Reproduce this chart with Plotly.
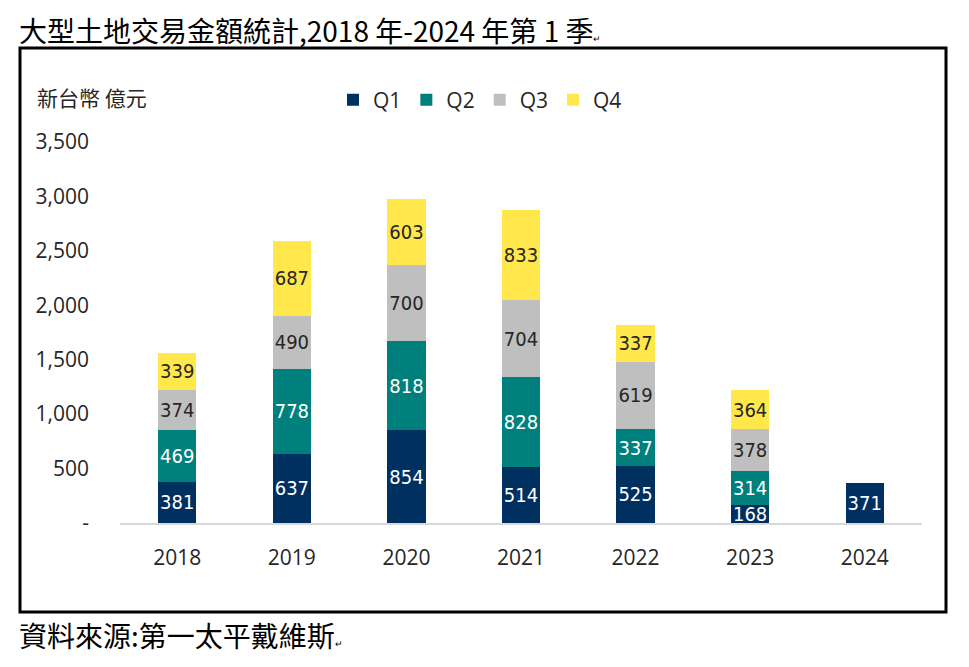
import plotly.graph_objects as go

# === DATA ===
years = ["2018", "2019", "2020", "2021", "2022", "2023", "2024"]
q1 = [381, 637, 854, 514, 525, 168, 371]
q2 = [469, 778, 818, 828, 337, 314, None]
q3 = [374, 490, 700, 704, 619, 378, None]
q4 = [339, 687, 603, 833, 337, 364, None]
y_ticks = [0, 500, 1000, 1500, 2000, 2500, 3000, 3500]
y_tick_text = ["-", "500", "1,000", "1,500", "2,000", "2,500", "3,000", "3,500"]

# === STYLE ===
# page has an 8px body margin, so everything below is in figure pixels (page - 8)
OFF = 8
W, H = 969 - 2 * OFF, 667 - 2 * OFF
L, R, T, B = 120 - OFF, 922 - OFF, 142 - OFF, 523 - OFF  # plot area
tick_font = "Open Sans, Noto Sans, sans-serif"
label_font = "Liberation Sans Narrow, DejaVu Sans Condensed, sans-serif"
cjk = "Noto Sans CJK TC, sans-serif"

series = [
    ("Q1", q1, "#00305F", "white"),
    ("Q2", q2, "#00807C", "white"),
    ("Q3", q3, "#BFBFBF", "#262626"),
    ("Q4", q4, "#FFE74C", "#262626"),
]

fig = go.Figure()
for name, vals, color, txtcol in series:
    fig.add_trace(go.Bar(
        x=years, y=vals, name=name,
        marker=dict(color=color, line=dict(width=0)),
        text=[str(v) if v is not None else "" for v in vals],
        textposition="inside", insidetextanchor="middle",
        textangle=0, constraintext="none",
        textfont=dict(family=label_font, size=20, color=txtcol),
        hoverinfo="x+y+name",
    ))

# page pixel -> paper coordinate
def px_x(p):
    return (p - OFF - L) / (R - L)

def px_y(p):
    return (B - (p - OFF)) / (B - T)

fig.update_layout(
    width=W, height=H,
    margin=dict(l=L, r=W - R, t=T, b=H - B, pad=0),
    barmode="stack", bargap=0.665,
    paper_bgcolor="white", plot_bgcolor="white",
    showlegend=True,
    legend=dict(orientation="h", traceorder="normal",
                x=px_x(333), y=px_y(100), xanchor="left", yanchor="middle",
                font=dict(family=tick_font, size=21, color="#262626"),
                itemwidth=30, bgcolor="rgba(0,0,0,0)"),
    xaxis=dict(showgrid=False, showline=True, linecolor="#D9D9D9", linewidth=1.5,
               ticks="", tickfont=dict(family=tick_font, size=21, color="#262626"),
               ticklabelstandoff=15),
    yaxis=dict(range=[0, 3500], tickvals=y_ticks, ticktext=y_tick_text,
               showgrid=False, zeroline=False, showline=False, ticks="",
               tickfont=dict(family=tick_font, size=21, color="#262626"),
               ticklabelstandoff=30),
)

# outer frame
fig.add_shape(type="rect", xref="paper", yref="paper",
              x0=px_x(20), x1=px_x(946), y0=px_y(612), y1=px_y(48),
              line=dict(color="black", width=3), layer="below")

# title, unit label and source
fig.add_annotation(text="大型土地交易金額統計,2018 年-2024 年第 1 季<span style='font-size:9px'>↵</span>",
                   xref="paper", yref="paper", x=px_x(17), y=px_y(8),
                   xanchor="left", yanchor="top", showarrow=False,
                   font=dict(family=cjk, size=28, color="black"))
fig.add_annotation(text="新台幣 億元", xref="paper", yref="paper", x=px_x(35), y=px_y(97),
                   xanchor="left", yanchor="middle", showarrow=False,
                   font=dict(family=cjk, size=21, color="#262626"))
fig.add_annotation(text="資料來源:第一太平戴維斯<span style='font-size:9px'>↵</span>",
                   xref="paper", yref="paper", x=px_x(17), y=px_y(635),
                   xanchor="left", yanchor="middle", showarrow=False,
                   font=dict(family=cjk, size=28, color="black"))

fig.write_html("out.html")
